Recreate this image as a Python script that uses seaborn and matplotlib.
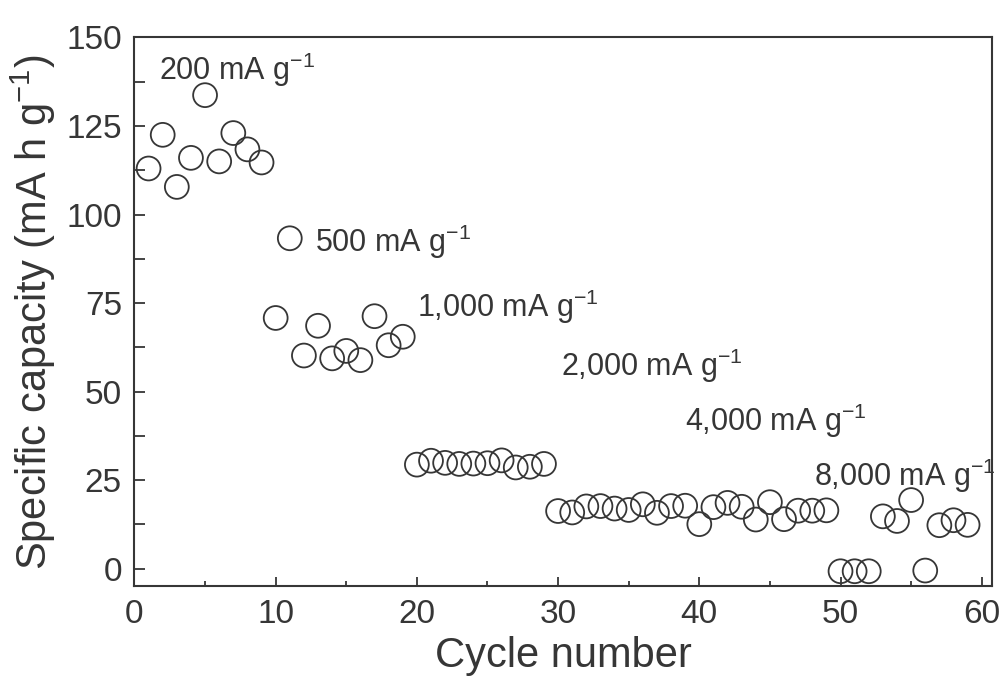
import numpy as np
import pandas as pd
import matplotlib
matplotlib.use("Agg")
import matplotlib.pyplot as plt
from matplotlib.ticker import MultipleLocator
import seaborn as sns

# Rate capability: specific capacity for each cycle at stepped current densities
cycles = list(range(1, 60))
capacity = [
    113.0, 122.5, 107.8, 116.0, 133.7, 115.0, 123.0, 118.4, 114.7,   # 1-9
    70.8, 93.3,                                                        # 10-11
    60.2, 68.6, 59.4, 61.5, 58.9, 71.3, 63.1, 65.5,                    # 12-19
    29.4, 30.5, 29.9, 29.6, 29.7, 29.8, 30.6, 28.6, 28.8, 29.6,        # 20-29
    16.3, 15.9, 17.6, 17.7, 17.0, 16.6, 18.2, 15.8, 17.7, 17.8,        # 30-39
    12.6, 17.4, 18.6, 17.5, 13.9, 18.8, 14.0, 16.4, 16.4, 16.5,        # 40-49
    -0.7, -0.7, -0.7, 14.8, 13.5, 19.4, -0.5, 12.3, 13.7, 12.4,        # 50-59
]

rate_labels = ["200", "500", "1,000", "2,000", "4,000", "8,000"]
label_x = [1.75, 12.8, 20.0, 30.2, 39.0, 48.1]
label_y = [138.0, 89.4, 71.0, 54.5, 38.9, 23.5]

df = pd.DataFrame({"Cycle number": cycles, "capacity": capacity})

sns.set_theme(style="ticks")
plt.rcParams["font.family"] = ["Liberation Sans", "DejaVu Sans"]
plt.rcParams["mathtext.fontset"] = "custom"
plt.rcParams["mathtext.rm"] = "Liberation Sans"
plt.rcParams["mathtext.it"] = "Liberation Sans:italic"
plt.rcParams["mathtext.bf"] = "Liberation Sans:bold"

ink = "#363636"

fig = plt.figure(figsize=(9.99, 6.93), dpi=100, facecolor="white")
ax = fig.add_axes([0.1346, 0.1537, 0.858, 0.7923])
ax.set_facecolor("white")

sns.scatterplot(data=df, x="Cycle number", y="capacity", ax=ax,
                marker="o", s=295, linewidth=1.3, legend=False, zorder=3)
coll = ax.collections[0]
coll.set_facecolor("none")
coll.set_edgecolor(ink)
coll.set_clip_on(False)

for lab, tx, ty in zip(rate_labels, label_x, label_y):
    ax.text(tx, ty, lab + r" mA g$^{-1}$", fontsize=22, color=ink,
            ha="left", va="baseline", clip_on=False)

ax.set_xlim(0, 60.7)
ax.set_ylim(-5, 150)
ax.xaxis.set_major_locator(MultipleLocator(10))
ax.xaxis.set_minor_locator(MultipleLocator(5))
ax.yaxis.set_major_locator(MultipleLocator(25))
ax.yaxis.set_minor_locator(MultipleLocator(12.5))

ax.tick_params(axis="both", which="both", direction="in", colors=ink,
               width=1.3, labelcolor=ink, labelsize=24,
               top=False, right=False)
ax.tick_params(axis="y", which="major", length=8, pad=9)
ax.tick_params(axis="y", which="minor", length=8)
ax.tick_params(axis="x", which="major", length=6.5, pad=9)
ax.tick_params(axis="x", which="minor", length=3.8)

for sp in ax.spines.values():
    sp.set_visible(True)
    sp.set_color(ink)
    sp.set_linewidth(1.5)

ax.set_xlabel("Cycle number", fontsize=30, color=ink, labelpad=4)
ax.set_ylabel(r"Specific capacity (mA h g$^{-1}$)", fontsize=30, color=ink,
              labelpad=6)

fig.savefig("out.png", dpi=100, facecolor="white")
